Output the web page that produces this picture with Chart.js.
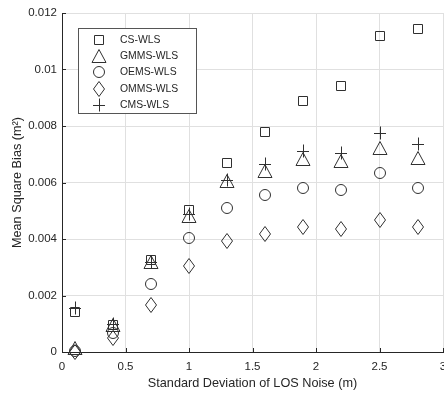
<!DOCTYPE html>
<html>
<head>
<meta charset="utf-8">
<script src="https://cdn.jsdelivr.net/npm/chart.js@4.4.1/dist/chart.umd.min.js"></script>
<style>
  html, body { margin: 0; padding: 0; background: #fff; overflow: hidden; }
  #wrap { width: 470px; height: 395px; }
</style>
</head>
<body>
<div id="wrap"><canvas id="msbChart" width="470" height="395"></canvas></div>
<script>
// values
const noiseStd = [0.1, 0.4, 0.7, 1.0, 1.3, 1.6, 1.9, 2.2, 2.5, 2.8];
const csWls   = [0.0014, 0.00097, 0.00326, 0.00503, 0.0067, 0.0078, 0.0089, 0.0094, 0.0112, 0.01142];
const gmmsWls = [0.00014, 0.00096, 0.00318, 0.0048, 0.00605, 0.0064, 0.00684, 0.00676, 0.00723, 0.00688];
const oemsWls = [0.00002, 0.00066, 0.0024, 0.00404, 0.0051, 0.00555, 0.00582, 0.00573, 0.00632, 0.00581];
const ommsWls = [0.0, 0.00048, 0.00165, 0.00303, 0.00392, 0.00418, 0.00441, 0.00437, 0.00466, 0.00441];
const cmsWls  = [0.00155, 0.001, 0.0032, 0.00487, 0.0061, 0.00666, 0.00713, 0.00703, 0.00774, 0.00737];

const seriesNames = ["CS-WLS", "GMMS-WLS", "OEMS-WLS", "OMMS-WLS", "CMS-WLS"];
const seriesValues = [csWls, gmmsWls, oemsWls, ommsWls, cmsWls];
const markerKinds = ["square", "triangle", "circle", "diamond", "plus"];

const xTitle = "Standard Deviation of LOS Noise (m)";
const yTitle = "Mean Square Bias (m\u00B2)";

const AXIS = "#262626";

// matlab-like hollow markers drawn on small canvases
function makeMarker(kind) {
  const c = document.createElement("canvas");
  c.width = 18; c.height = 18;
  const g = c.getContext("2d");
  const m = 9;
  g.strokeStyle = "#303030";
  g.lineWidth = 1;
  g.beginPath();
  if (kind === "square") {
    g.rect(4.5, 4.5, 9, 9);
  } else if (kind === "triangle") {
    g.moveTo(m, m - 6.5); g.lineTo(m + 7, m + 6.5); g.lineTo(m - 7, m + 6.5); g.closePath();
  } else if (kind === "circle") {
    g.arc(m, m, 5.5, 0, Math.PI * 2);
  } else if (kind === "diamond") {
    g.moveTo(m, m - 7.5); g.lineTo(m + 5.5, m); g.lineTo(m, m + 7.5); g.lineTo(m - 5.5, m); g.closePath();
  } else if (kind === "plus") {
    g.moveTo(m - 6, m + 0.5); g.lineTo(m + 6, m + 0.5);
    g.moveTo(m + 0.5, m - 6.5); g.lineTo(m + 0.5, m + 6.5);
  }
  g.stroke();
  return c;
}

const markers = markerKinds.map(makeMarker);

const datasets = seriesNames.map((name, i) => ({
  label: name,
  data: noiseStd.map((x, j) => ({ x: x, y: seriesValues[i][j] })),
  pointStyle: markers[i],
  pointRadius: 6,
  showLine: false,
  clip: false
}));

// keep marker images crisp
const crispMarkers = {
  id: "crispMarkers",
  beforeDatasetsDraw(chart) { chart.ctx.imageSmoothingEnabled = false; },
  afterDatasetsDraw(chart) { chart.ctx.imageSmoothingEnabled = true; }
};

// inward tick marks like matlab
const inwardTicks = {
  id: "inwardTicks",
  afterDatasetsDraw(chart) {
    const ctx = chart.ctx;
    const a = chart.chartArea;
    const xs = chart.scales.x, ys = chart.scales.y;
    ctx.save();
    ctx.strokeStyle = AXIS;
    ctx.lineWidth = 1;
    ctx.beginPath();
    xs.ticks.forEach(t => {
      const px = Math.round(xs.getPixelForValue(t.value)) + 0.5;
      ctx.moveTo(px, a.bottom);
      ctx.lineTo(px, a.bottom - 4);
    });
    ys.ticks.forEach(t => {
      const py = Math.round(ys.getPixelForValue(t.value)) + 0.5;
      ctx.moveTo(a.left, py);
      ctx.lineTo(a.left + 4, py);
    });
    ctx.stroke();
    ctx.restore();
  }
};

// boxed legend in the upper left
const boxLegend = {
  id: "boxLegend",
  afterDraw(chart) {
    const ctx = chart.ctx;
    const bx = 78.5, by = 28.5, bw = 118, bh = 85;
    ctx.save();
    ctx.fillStyle = "#fff";
    ctx.fillRect(bx, by, bw, bh);
    ctx.strokeStyle = "#555";
    ctx.lineWidth = 1;
    ctx.strokeRect(bx, by, bw, bh);
    ctx.font = "10.4px 'Liberation Sans', Arial, sans-serif";
    ctx.fillStyle = AXIS;
    ctx.textBaseline = "middle";
    seriesNames.forEach((name, i) => {
      const cy = Math.round(39.5 + i * 16.4);
      ctx.drawImage(markers[i], 99 - 9, cy - 9);
      ctx.fillText(name, 120, cy + 0.5);
    });
    ctx.restore();
  }
};

new Chart(document.getElementById("msbChart"), {
  type: "scatter",
  data: { datasets: datasets },
  options: {
    responsive: false,
    animation: false,
    events: [],
    layout: { padding: { top: 13, right: 27, bottom: 0, left: 0 } },
    plugins: {
      legend: { display: false },
      tooltip: { enabled: false }
    },
    scales: {
      x: {
        type: "linear",
        min: 0, max: 3,
        afterFit: s => { s.height = 43; },
        ticks: {
          stepSize: 0.5,
          padding: 8,
          maxRotation: 0,
          color: AXIS,
          font: { family: "'Liberation Sans', Arial, sans-serif", size: 11.5 },
          callback: v => String(+Number(v).toFixed(2))
        },
        grid: { color: "#e0e0e0", drawTicks: false },
        border: { display: true, color: AXIS, width: 1 },
        title: {
          display: true,
          text: xTitle,
          color: AXIS,
          padding: { top: 0, bottom: 4 },
          font: { family: "'Liberation Sans', Arial, sans-serif", size: 12.7 }
        }
      },
      y: {
        type: "linear",
        min: 0, max: 0.012,
        afterFit: s => { s.width = 62; },
        ticks: {
          stepSize: 0.002,
          padding: 5,
          color: AXIS,
          font: { family: "'Liberation Sans', Arial, sans-serif", size: 11.5 },
          callback: v => String(+Number(v).toFixed(3))
        },
        grid: { color: "#e0e0e0", drawTicks: false },
        border: { display: true, color: AXIS, width: 1 },
        title: {
          display: true,
          text: yTitle,
          color: AXIS,
          padding: { top: 10, bottom: 0 },
          font: { family: "'Liberation Sans', Arial, sans-serif", size: 12.7 }
        }
      }
    }
  },
  plugins: [crispMarkers, inwardTicks, boxLegend]
});
</script>
</body>
</html>
